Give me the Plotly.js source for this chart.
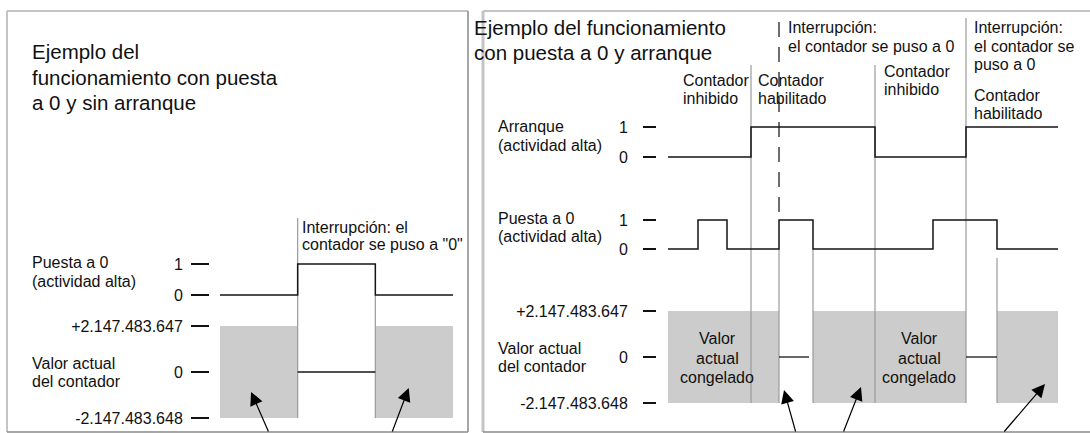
<!DOCTYPE html>
<html><head><meta charset="utf-8">
<script src="https://cdn.plot.ly/plotly-3.0.1.min.js"></script>
<style>html,body{margin:0;padding:0;background:#fff}#chart{width:1090px;height:433px}</style>
</head><body><div id="chart"></div>
<script>
// ================= DATA =================
// Panel 1: reset without start (time in arbitrary units)
const p1Time = [0, 30];
const p1ResetT = [0, 10, 20, 30];
const p1ResetV = [0, 1, 0, 0];
const p1FrozenStart = [0, 20];
const p1FrozenEnd = [10, 30];
const p1ZeroStart = [10];
const p1ZeroEnd = [20];
const p1Boundaries = [10, 20];

// Panel 2: reset and start
const p2Time = [0, 39];
const p2StartT = [0, 8.3, 20.7, 29.8, 39];
const p2StartV = [0, 1, 0, 1, 1];
const p2ResetT = [0, 3.0, 5.9, 11.1, 14.5, 26.5, 32.9, 39];
const p2ResetV = [0, 1, 0, 1, 0, 1, 0, 0];
const p2FrozenStart = [0, 14.5, 32.9];
const p2FrozenEnd = [11.1, 29.8, 39];
const p2ZeroStart = [11.1, 29.8];
const p2ZeroEnd = [14.1, 32.9];
const p2Boundaries = [8.3, 20.7, 29.8, 11.1, 14.5, 32.9];
const p2Interrupt = [11.1];

const counterMin = -2147483648, counterMax = 2147483647;
const binaryTicks = [0, 1];
const binaryTickText = ['0', '1'];
const counterTicks = [counterMin, 0, counterMax];
const counterTickText = ['-2.147.483.648', '0', '+2.147.483.647'];

// arrow targets: time, counter value
const p1ArrowT = [4.0, 24.3];
const p1ArrowV = [-9.3e8, -7.5e8];
const p2ArrowT = [11.6, 19.3, 37.7];
const p2ArrowV = [-1.54e9, -1.40e9, -1.26e9];

// ================= LAYOUT HELPERS =================
const W = 1090, H = 433;
const FONT = 'Liberation Sans, Arial, Helvetica, sans-serif';
const TXT = '#111';
const fx = p => p / W;
const fy = p => 1 - p / H;
function rangeFor(v0, p0, v1, p1) {
  const k = (v1 - v0) / (p0 - p1);
  return [v0 - (H - p0) * k, v1 + p1 * k];
}
function vlines(ts, tops, bottoms) {
  const x = [], y = [];
  ts.forEach((t, i) => { x.push(t, t, null); y.push(tops[i], bottoms[i], null); });
  return {x, y};
}
function segs(starts, ends, v) {
  const x = [], y = [];
  starts.forEach((s, i) => { x.push(s, ends[i], null); y.push(v, v, null); });
  return {x, y};
}

const SIG = {color: '#151515', width: 1.5};
const GUIDE = {color: '#9a9a9a', width: 1.2};

// guide line extents (px)
const p1GuideTop = [218, 295], p1GuideBot = [418, 418];
const p2GuideTop = [65, 65, 18, 249, 249, 258], p2GuideBot = [403, 403, 403, 403, 403, 403];

const g1 = vlines(p1Boundaries, p1GuideTop, p1GuideBot);
const g2 = vlines(p2Boundaries, p2GuideTop, p2GuideBot);
const d2 = vlines(p2Interrupt, [22], [220]);
const z1 = segs(p1ZeroStart, p1ZeroEnd, 0);
const z2 = segs(p2ZeroStart, p2ZeroEnd, 0);

const traces = [
  {x: g1.x, y: g1.y, xaxis: 'x', yaxis: 'y', mode: 'lines', line: GUIDE, hoverinfo: 'skip'},
  {x: p1ResetT, y: p1ResetV, xaxis: 'x', yaxis: 'y2', mode: 'lines', line: Object.assign({shape: 'hv'}, SIG)},
  {x: z1.x, y: z1.y, xaxis: 'x', yaxis: 'y3', mode: 'lines', line: {color: '#151515', width: 1.3}},
  {x: g2.x, y: g2.y, xaxis: 'x2', yaxis: 'y4', mode: 'lines', line: GUIDE, hoverinfo: 'skip'},
  {x: d2.x, y: d2.y, xaxis: 'x2', yaxis: 'y4', mode: 'lines', line: {color: '#333', width: 1.4, dash: '15px,10px'}},
  {x: p2StartT, y: p2StartV, xaxis: 'x2', yaxis: 'y5', mode: 'lines', line: Object.assign({shape: 'hv'}, SIG)},
  {x: p2ResetT, y: p2ResetV, xaxis: 'x2', yaxis: 'y6', mode: 'lines', line: Object.assign({shape: 'hv'}, SIG)},
  {x: z2.x, y: z2.y, xaxis: 'x2', yaxis: 'y7', mode: 'lines', line: {color: '#151515', width: 1.3}}
];

const shapes = [];
p1FrozenStart.forEach((s, i) => shapes.push({type: 'rect', xref: 'x', yref: 'y3', x0: s, x1: p1FrozenEnd[i],
  y0: counterMin, y1: counterMax, fillcolor: '#cccccc', line: {width: 0}, layer: 'below'}));
p2FrozenStart.forEach((s, i) => shapes.push({type: 'rect', xref: 'x2', yref: 'y7', x0: s, x1: p2FrozenEnd[i],
  y0: counterMin, y1: counterMax, fillcolor: '#cccccc', line: {width: 0}, layer: 'below'}));
// panel frames
const LIGHT = '#c4c4c4', DARK = '#8a8a8a';
function pline(x0, y0, x1, y1, c, w) {
  shapes.push({type: 'line', xref: 'paper', yref: 'paper', x0: fx(x0), y0: fy(y0), x1: fx(x1), y1: fy(y1), line: {color: c, width: w}});
}
pline(7, 11, 468, 11, LIGHT, 2);
pline(7, 11, 7, 432, LIGHT, 2);
pline(468, 11, 468, 432, DARK, 1.5);
pline(7, 432, 468, 432, DARK, 1.5);
pline(483, 11, 1090, 11, LIGHT, 2);
pline(483, 11, 483, 432, LIGHT, 3);
pline(483, 432, 1090, 432, DARK, 1.5);

const annotations = [];
function txt(x, y, s, size, anchor) {
  annotations.push({xref: 'paper', yref: 'paper', x: fx(x), y: fy(y), text: s, showarrow: false,
    xanchor: anchor || 'left', yanchor: 'middle', font: {family: FONT, size: size || 16, color: TXT}});
}
// panel 1 texts
txt(30, 52, 'Ejemplo del', 20.5);
txt(30, 77, 'funcionamiento con puesta', 20.5);
txt(30, 102, 'a 0 y sin arranque', 20.5);
txt(300, 227, 'Interrupción: el');
txt(300, 244, 'contador se puso a "0"');
txt(30, 262, 'Puesta a 0');
txt(30, 281, '(actividad alta)');
txt(30, 363, 'Valor actual');
txt(30, 381, 'del contador');
// panel 2 texts
txt(472, 28, 'Ejemplo del funcionamiento', 20.5);
txt(472, 53, 'con puesta a 0 y arranque', 20.5);
txt(786, 28, 'Interrupción:');
txt(786, 46, 'el contador se puso a 0');
txt(972, 28, 'Interrupción:');
txt(972, 46, 'el contador se');
txt(972, 64, 'puso a 0');
txt(681, 80, 'Contador');
txt(681, 98, 'inhibido');
txt(756, 80, 'Contador');
txt(756, 98, 'habilitado');
txt(882, 71, 'Contador');
txt(882, 89, 'inhibido');
txt(972, 95, 'Contador');
txt(972, 113, 'habilitado');
txt(496, 127, 'Arranque');
txt(496, 145, '(actividad alta)');
txt(496, 218, 'Puesta a 0');
txt(496, 236, '(actividad alta)');
txt(496, 348, 'Valor actual');
txt(496, 366, 'del contador');
[717, 919].forEach(cx => {
  txt(cx, 338, 'Valor', 16, 'center');
  txt(cx, 358, 'actual', 16, 'center');
  txt(cx, 377, 'congelado', 16, 'center');
});
// arrows
const ARROW = {showarrow: true, text: '', arrowhead: 2, arrowsize: 2.2, arrowwidth: 1.2, arrowcolor: '#000', standoff: 0};
const p1Off = [[18, 53], [-17, 57]];
p1ArrowT.forEach((t, i) => annotations.push(Object.assign({xref: 'x', yref: 'y3', x: t, y: p1ArrowV[i], ax: p1Off[i][0], ay: p1Off[i][1]}, ARROW)));
const p2Off = [[12, 55], [-18, 58], [-42, 61]];
p2ArrowT.forEach((t, i) => annotations.push(Object.assign({xref: 'x2', yref: 'y7', x: t, y: p2ArrowV[i], ax: p2Off[i][0], ay: p2Off[i][1]}, ARROW)));

function tickAxis(overlay, pos, range, vals, text, tlen, standoff) {
  return {overlaying: overlay, anchor: 'free', position: pos, range: range, tickvals: vals, ticktext: text,
    ticks: 'outside', ticklen: tlen, tickwidth: 1.5, tickcolor: '#111', showline: false, showgrid: false,
    zeroline: false, fixedrange: true, ticklabelstandoff: standoff,
    tickfont: {family: FONT, size: 16, color: TXT}};
}

const layout = {
  width: W, height: H, margin: {l: 0, r: 0, t: 0, b: 0, pad: 0},
  paper_bgcolor: '#ffffff', plot_bgcolor: 'rgba(0,0,0,0)', showlegend: false,
  xaxis: {domain: [fx(220), fx(453)], range: p1Time, visible: false, anchor: 'y', fixedrange: true},
  xaxis2: {domain: [fx(668), fx(1058)], range: p2Time, visible: false, anchor: 'y4', fixedrange: true},
  yaxis: {domain: [0, 1], range: [H, 0], visible: false, anchor: 'x', fixedrange: true},
  yaxis2: tickAxis('y', fx(209), rangeFor(0, 295, 1, 264), binaryTicks, binaryTickText, 18, 5),
  yaxis3: tickAxis('y', fx(209), rangeFor(counterMin, 418, counterMax, 326), counterTicks, counterTickText, 18, 5),
  yaxis4: {domain: [0, 1], range: [H, 0], visible: false, anchor: 'x2', fixedrange: true},
  yaxis5: tickAxis('y4', fx(656), rangeFor(0, 157, 1, 127), binaryTicks, binaryTickText, 13, 12),
  yaxis6: tickAxis('y4', fx(656), rangeFor(0, 249, 1, 220), binaryTicks, binaryTickText, 13, 12),
  yaxis7: tickAxis('y4', fx(656), rangeFor(counterMin, 403, counterMax, 311), counterTicks, counterTickText, 13, 12),
  shapes: shapes, annotations: annotations
};

Plotly.newPlot('chart', traces, layout, {staticPlot: true, displayModeBar: false});
</script>
</body></html>
